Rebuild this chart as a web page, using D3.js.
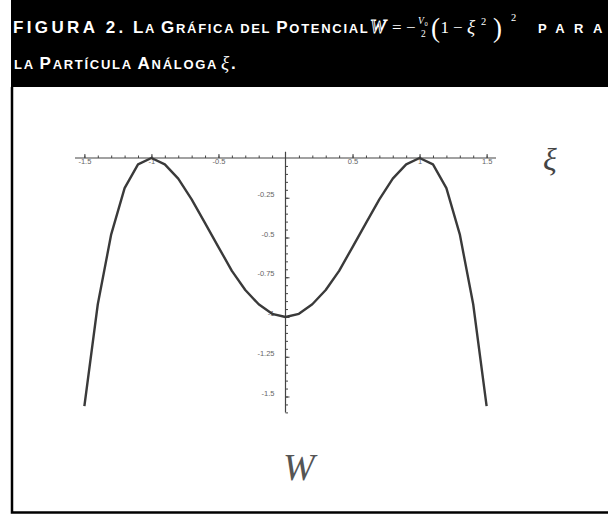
<!DOCTYPE html>
<html>
<head>
<meta charset="utf-8">
<script src="https://cdn.jsdelivr.net/npm/d3@7"></script>
<style>
  html, body { margin: 0; padding: 0; background: #fff; }
  svg { display: block; }
  .hdr { font-family: "Liberation Sans", Arial, sans-serif; font-weight: bold; fill: #fff; letter-spacing: 1.7px; }
  .math { font-family: "Liberation Serif", "Times New Roman", serif; fill: #fff; }
  .tick text { font-family: "Liberation Sans", Arial, sans-serif; font-size: 7.5px; fill: #666; }
  .axis path, .axis line { stroke: #444; }
</style>
</head>
<body>
<svg id="chart" width="608" height="514"></svg>
<script>
'use strict';

// ── Data ──────────────────────────────────────────────────────────────────
const xiValues = [-1.5, -1.4, -1.3, -1.2, -1.1, -1.0, -0.9, -0.8, -0.7, -0.6, -0.5, -0.4, -0.3, -0.2, -0.1,
                  0, 0.1, 0.2, 0.3, 0.4, 0.5, 0.6, 0.7, 0.8, 0.9, 1.0, 1.1, 1.2, 1.3, 1.4, 1.5];
const wValues  = [-1.56, -0.92, -0.48, -0.19, -0.04, 0, -0.04, -0.13, -0.26, -0.41, -0.56, -0.71, -0.83, -0.92, -0.98,
                  -1, -0.98, -0.92, -0.83, -0.71, -0.56, -0.41, -0.26, -0.13, -0.04, 0, -0.04, -0.19, -0.48, -0.92, -1.56];
const xMajorTicks  = [-1.5, -1, -0.5, 0.5, 1, 1.5];
const xMajorLabels = ['-1.5', '-1', '-0.5', '0.5', '1', '1.5'];
const yMajorTicks  = [-0.25, -0.5, -0.75, -1, -1.25, -1.5];
const yMajorLabels = ['-0.25', '-0.5', '-0.75', '-1', '-1.25', '-1.5'];

const svg = d3.select('#chart');

// ── Header band + frame ──────────────────────────────────────────────────
svg.append('rect').attr('x', 11).attr('y', 0).attr('width', 597).attr('height', 87).attr('fill', '#000');
svg.append('path')
  .attr('d', 'M12,87 V512.5 H608')
  .attr('fill', 'none').attr('stroke', '#000').attr('stroke-width', 2.5);

// small-caps title: capitalised letters big, the rest small
const BIG = 17, SMALL = 13;
function smallCaps(textSel, str) {
  str.split(' ').forEach((word, wi) => {
    if (wi > 0) textSel.append('tspan').attr('font-size', SMALL).text(' ');
    for (const ch of word) {
      const isCap = ch !== ch.toLowerCase();
      textSel.append('tspan').attr('font-size', isCap ? BIG : SMALL).text(ch.toUpperCase());
    }
  });
}
function hdrText(x, yb) {
  return svg.append('text').attr('class', 'hdr').attr('x', x).attr('y', yb);
}

hdrText(13, 33).attr('textLength', 112).attr('lengthAdjust', 'spacing')
  .append('tspan').attr('font-size', BIG).text('FIGURA 2.');
smallCaps(hdrText(133, 33), 'La Gráfica del Potencial');
smallCaps(hdrText(538, 33).attr('textLength', 66).attr('lengthAdjust', 'spacing'), 'para');
smallCaps(hdrText(14, 69), 'la Partícula Análoga');

// formula  W = −(V0/2)(1 − ξ²)²
const f = svg.append('g').attr('class', 'math');
f.append('text').attr('x', 370).attr('y', 33).attr('font-size', 19).attr('font-style', 'italic')
  .attr('fill', 'none').attr('stroke', '#fff').attr('stroke-width', 0.9).text('W');
f.append('text').attr('x', 392).attr('y', 33).attr('font-size', 17).text('=');
f.append('text').attr('x', 406).attr('y', 33).attr('font-size', 17).text('−');
f.append('text').attr('x', 418).attr('y', 24).attr('font-size', 9.5).attr('font-style', 'italic').text('V');
f.append('text').attr('x', 424.5).attr('y', 26).attr('font-size', 6.5).text('0');
f.append('text').attr('x', 421).attr('y', 37).attr('font-size', 9.5).text('2');
f.append('text').attr('x', 431).attr('y', 37).attr('font-size', 27).attr('font-weight', 300).text('(');
f.append('text').attr('x', 440.5).attr('y', 33).attr('font-size', 17).text('1');
f.append('text').attr('x', 453).attr('y', 33).attr('font-size', 17).text('−');
f.append('text').attr('x', 467).attr('y', 33).attr('font-size', 19).attr('font-style', 'italic').text('ξ');
f.append('text').attr('x', 481).attr('y', 25).attr('font-size', 10.5).text('2');
f.append('text').attr('x', 493).attr('y', 37).attr('font-size', 27).attr('font-weight', 300).text(')');
f.append('text').attr('x', 511).attr('y', 21).attr('font-size', 10.5).text('2');

svg.append('text').attr('class', 'math').attr('x', 221).attr('y', 69)
  .attr('font-size', 19).attr('font-style', 'italic').text('ξ');
svg.append('text').attr('class', 'hdr').attr('x', 231).attr('y', 69).attr('font-size', BIG).text('.');

// ── Scales ────────────────────────────────────────────────────────────────
const x = d3.scaleLinear().domain([-1.57, 1.57]).range([75, 496]);
const y = d3.scaleLinear().domain([0, -1.6]).range([158, 412.4]);

// ── Axes ──────────────────────────────────────────────────────────────────
const xMinor = d3.range(-15, 16).map(i => i / 10).filter(v => Math.abs(v) > 1e-9);
const yMinor = d3.range(1, 33).map(i => -i * 0.05);

const gx = svg.append('g').attr('class', 'axis').attr('transform', `translate(0,${y(0)})`);
gx.call(d3.axisBottom(x).tickValues(xMinor).tickSize(-2.5).tickFormat(''))
  .call(g => g.select('.domain').remove());
gx.append('g').call(d3.axisBottom(x).tickValues(xMajorTicks).tickSize(-4).tickPadding(1)
    .tickFormat((d, i) => xMajorLabels[i]))
  .call(g => g.select('.domain').remove());
gx.append('line').attr('x1', x(-1.57)).attr('x2', x(1.57)).attr('stroke', '#444').attr('stroke-width', 1.2);

const gy = svg.append('g').attr('class', 'axis').attr('transform', `translate(${x(0)},0)`);
gy.call(d3.axisLeft(y).tickValues(yMinor).tickSize(-2.5).tickFormat(''))
  .call(g => g.select('.domain').remove());
gy.append('g').call(d3.axisLeft(y).tickValues(yMajorTicks).tickSize(-4).tickPadding(11)
    .tickFormat((d, i) => yMajorLabels[i]))
  .call(g => g.select('.domain').remove())
  .call(g => g.selectAll('text').attr('dy', '-0.2em'));
gy.append('line').attr('y1', y(0.04)).attr('y2', y(-1.6)).attr('stroke', '#444').attr('stroke-width', 1.2);

// ── Curve ─────────────────────────────────────────────────────────────────
const pts = xiValues.map((v, i) => [v, wValues[i]]);
svg.append('path')
  .datum(pts)
  .attr('d', d3.line().x(d => x(d[0])).y(d => y(d[1])))
  .attr('fill', 'none')
  .attr('stroke', '#3a3a3a')
  .attr('stroke-width', 2.4)
  .attr('stroke-linejoin', 'round');

// ── Axis titles ───────────────────────────────────────────────────────────
svg.append('text').attr('x', 543).attr('y', 170)
  .attr('font-family', '"Liberation Serif", serif').attr('font-size', 32).attr('font-style', 'italic')
  .attr('fill', '#444').text('ξ');
svg.append('text').attr('x', 283).attr('y', 480)
  .attr('font-family', '"Liberation Serif", serif').attr('font-size', 38).attr('font-style', 'italic')
  .attr('fill', '#555').text('W');
</script>
</body>
</html>
